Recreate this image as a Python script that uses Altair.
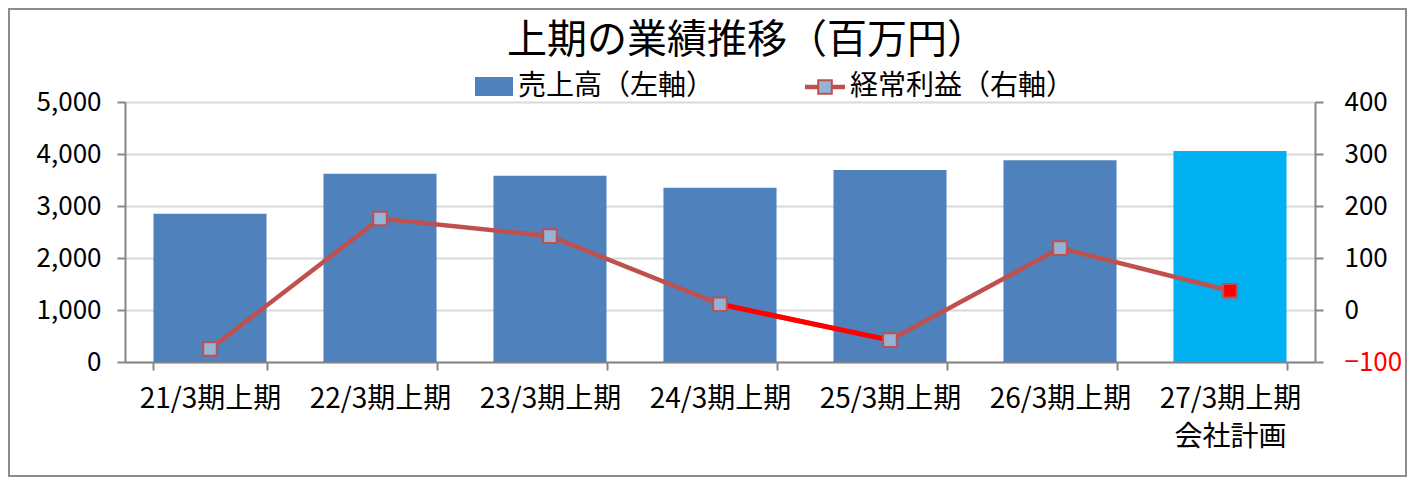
import altair as alt
import pandas as pd

categories = ["21/3期上期", "22/3期上期", "23/3期上期", "24/3期上期",
              "25/3期上期", "26/3期上期", "27/3期上期\n会社計画"]
sales = [2850, 3620, 3580, 3350, 3690, 3880, 4060]          # 売上高 (left axis)
profit = [-75, 176, 142, 11, -58, 119, 37]                    # 経常利益 (right axis)
plan = [False, False, False, False, False, False, True]      # company plan period
red_seg = [False, False, False, True, True, False, False]    # highlighted decline segment

left_ticks = [0, 1000, 2000, 3000, 4000, 5000]
right_ticks = [-100, 0, 100, 200, 300, 400]

title_text = "上期の業績推移（百万円）"
legend_sales = "売上高（左軸）"
legend_profit = "経常利益（右軸）"

FONT = "Noto Sans CJK JP"
AXIS_GRAY = "#868686"

df = pd.DataFrame({"cat": categories, "sales": sales, "profit": profit,
                   "plan": plan, "red": red_seg})

W, H = 1190, 260

x_axis = alt.Axis(title=None, labelAngle=0, labelExpr="split(datum.label, '\\n')",
                  labelFontSize=28, labelLineHeight=38, labelColor="#000000",
                  labelPadding=15, tickBand="extent", tickSize=8,
                  domainColor=AXIS_GRAY, tickColor=AXIS_GRAY,
                  domainWidth=2, tickWidth=2, grid=False)
x_enc = alt.X("cat:N", sort=categories,
              scale=alt.Scale(paddingInner=0.335, paddingOuter=0.1675), axis=x_axis)

left_axis = alt.Axis(title=None, orient="left", values=left_ticks, format=",d", labelFontSize=26,
                     labelColor="#000000", labelPadding=16, tickSize=8,
                     domainColor=AXIS_GRAY, tickColor=AXIS_GRAY, domainWidth=2,
                     tickWidth=2, grid=True, gridColor="#D9D9D9", gridWidth=2)

right_axis = alt.Axis(title=None, orient="right", values=right_ticks, labelFontSize=26,
                      labelExpr="datum.value < 0 ? '−' + format(abs(datum.value), 'd') : format(datum.value, 'd')",
                      labelColor={"condition": {"test": "datum.value < 0", "value": "#FF0000"},
                                  "value": "#000000"},
                      labelPadding=21, tickSize=8, domainColor=AXIS_GRAY,
                      tickColor=AXIS_GRAY, domainWidth=2, tickWidth=2, grid=False)
y_right = alt.Y("profit:Q", scale=alt.Scale(domain=[-100, 400], nice=False), axis=right_axis)

base = alt.Chart(df)

bars = base.mark_bar().encode(
    x=x_enc,
    y=alt.Y("sales:Q", scale=alt.Scale(domain=[0, 5000], nice=False), axis=left_axis),
    color=alt.condition("datum.plan", alt.value("#00B0F0"), alt.value("#4F81BD")),
)

line = base.mark_line(color="#C0504D", strokeWidth=4.5).encode(x=x_enc, y=y_right)
seg = base.transform_filter("datum.red").mark_line(color="#FF0000", strokeWidth=5).encode(
    x=x_enc, y=y_right)
pts = base.mark_point(shape="square", filled=True, size=185, stroke="#C0504D",
                      strokeWidth=2, opacity=1).encode(
    x=x_enc, y=y_right,
    fill=alt.condition("datum.plan", alt.value("#FF0000"), alt.value("#95B3D7")),
)

profit_layer = alt.layer(line, seg, pts)

one = alt.Data(values=[{"a": 1}])

title_mark = alt.Chart(one).mark_text(text=title_text, fontSize=40, font=FONT, color="#000000",
                                      align="center", baseline="middle").encode(
    x=alt.value(622), y=alt.value(-61))

leg_swatch = alt.Chart(one).mark_rect(color="#4F81BD").encode(
    x=alt.value(350), x2=alt.value(388), y=alt.value(-25), y2=alt.value(-6))
leg_text1 = alt.Chart(one).mark_text(text=legend_sales, fontSize=28, font=FONT, color="#000000",
                                     align="left", baseline="middle").encode(
    x=alt.value(393), y=alt.value(-15))
leg_line = alt.Chart(one).mark_rule(color="#C0504D", strokeWidth=4.5).encode(
    x=alt.value(680), x2=alt.value(720), y=alt.value(-15))
leg_pt = alt.Chart(one).mark_point(shape="square", filled=True, size=185, fill="#95B3D7",
                                   stroke="#C0504D", strokeWidth=2, opacity=1).encode(
    x=alt.value(700), y=alt.value(-15))
leg_text2 = alt.Chart(one).mark_text(text=legend_profit, fontSize=28, font=FONT, color="#000000",
                                     align="left", baseline="middle").encode(
    x=alt.value(725), y=alt.value(-15))

border = alt.Chart(one).mark_rect(fill=None, stroke="#8C8C8C", strokeWidth=2).encode(
    x=alt.value(-116), x2=alt.value(1281), y=alt.value(-93), y2=alt.value(374))

chart = alt.layer(border, bars, profit_layer, title_mark, leg_swatch, leg_text1,
                  leg_line, leg_pt, leg_text2).resolve_scale(y="independent").properties(
    width=W, height=H,
    autosize=alt.AutoSizeParams(type="none"),
    padding={"left": 117, "top": 94, "right": 92, "bottom": 115},
).configure(font=FONT).configure_view(stroke=None)

chart.save("out.html", embed_options={"renderer": "svg", "actions": False})
